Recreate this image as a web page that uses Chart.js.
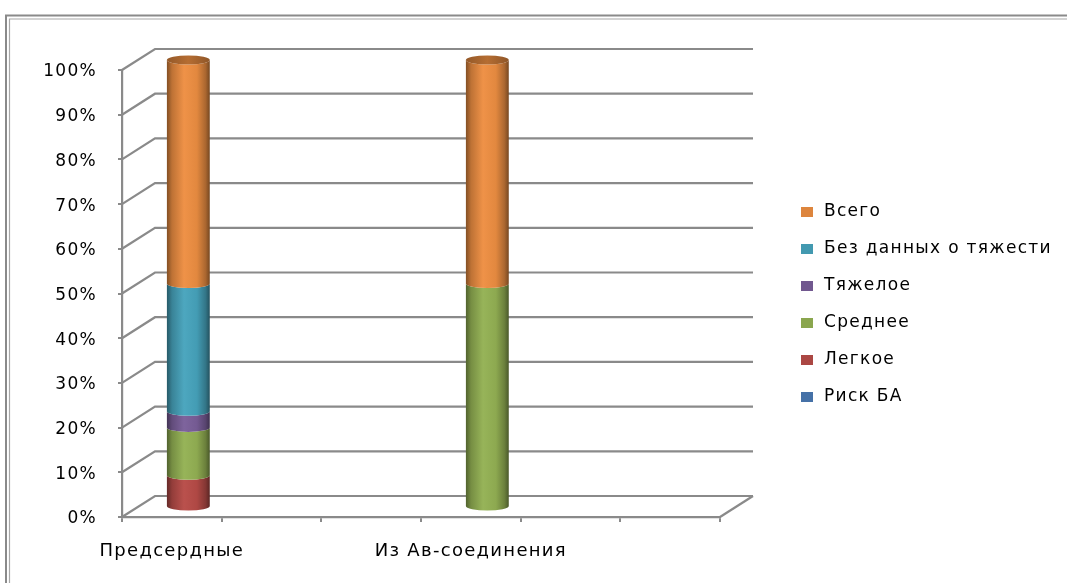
<!DOCTYPE html>
<html lang="ru">
<head>
<meta charset="utf-8">
<title>Распределение по тяжести</title>
<script src="https://cdn.jsdelivr.net/npm/chart.js@4.4.1/dist/chart.umd.min.js"></script>
<style>
  html, body { margin: 0; padding: 0; background: #ffffff; }
  #wrap { width: 1067px; height: 583px; position: relative; }
</style>
</head>
<body>
<div id="wrap"><canvas id="chart" width="1067" height="583"></canvas></div>
<script>
// Categories along the horizontal axis (only two carry labels)
const categories = ['Предсердные', '', '', 'Из Ав-соединения', '', ''];

// Series shares, % of each column (stacked bottom to top)
const riskBA   = [0,    null, null, 0,  null, null];
const mild     = [7.1,  null, null, 0,  null, null];
const moderate = [10.7, null, null, 50, null, null];
const severe   = [3.6,  null, null, 0,  null, null];
const noData   = [28.6, null, null, 0,  null, null];
const total    = [50,   null, null, 50, null, null];

const seriesNames  = ['Риск БА', 'Легкое', 'Среднее', 'Тяжелое', 'Без данных о тяжести', 'Всего'];
const seriesColors = ['#4A79B4', '#B84C48', '#94B254', '#7A5F9A', '#47A4BD', '#EE8F42'];
const seriesValues = [riskBA, mild, moderate, severe, noData, total];

// Value axis tick labels
const yTickLabels = ['0%', '10%', '20%', '30%', '40%', '50%', '60%', '70%', '80%', '90%', '100%'];

const FONT = "'DejaVu Sans', Verdana, sans-serif";
const GRID = '#8a8a8a';
const DEPTH_X = 33, DEPTH_Y = -21;   // back wall offset
const BAR_X = 16.5, BAR_Y = -10;     // cylinders sit half way into the depth

function shade(hex, f) {
  const n = parseInt(hex.slice(1), 16);
  let r = (n >> 16) & 255, g = (n >> 8) & 255, b = n & 255;
  if (f <= 1) { r *= f; g *= f; b *= f; }
  else { const t = f - 1; r += (255 - r) * t; g += (255 - g) * t; b += (255 - b) * t; }
  return 'rgb(' + Math.round(r) + ',' + Math.round(g) + ',' + Math.round(b) + ')';
}

function spacing(chart) { chart.ctx.letterSpacing = '1.3px'; }

const frame3d = {
  id: 'frame3d',
  beforeLayout: spacing,
  beforeDraw(chart) {
    const ctx = chart.ctx;
    spacing(chart);
    ctx.save();
    ctx.fillStyle = '#ffffff';
    ctx.fillRect(0, 0, chart.width, chart.height);
    // double border of the chart frame
    ctx.strokeStyle = '#8a8a8a';
    ctx.lineWidth = 2;
    ctx.beginPath();
    ctx.moveTo(6, chart.height); ctx.lineTo(6, 15.5); ctx.lineTo(chart.width, 15.5);
    ctx.stroke();
    ctx.strokeStyle = '#a8a8a8';
    ctx.lineWidth = 1.2;
    ctx.beginPath();
    ctx.moveTo(9.5, chart.height); ctx.lineTo(9.5, 19); ctx.lineTo(chart.width, 19);
    ctx.stroke();
    ctx.restore();
  },
  beforeDatasetsDraw(chart) {
    const ctx = chart.ctx;
    const { left, right, bottom } = chart.chartArea;
    const y = chart.scales.y;
    ctx.save();
    ctx.strokeStyle = GRID;
    ctx.lineWidth = 2.2;
    ctx.lineJoin = 'miter';
    // side wall diagonals and back wall gridlines
    y.ticks.forEach(t => {
      const yf = y.getPixelForValue(t.value);
      ctx.beginPath();
      ctx.moveTo(left, yf);
      ctx.lineTo(left + DEPTH_X, yf + DEPTH_Y);
      ctx.lineTo(right + DEPTH_X, yf + DEPTH_Y);
      ctx.stroke();
    });
    // floor edge on the right
    ctx.beginPath();
    ctx.moveTo(right, bottom);
    ctx.lineTo(right + DEPTH_X, bottom + DEPTH_Y);
    ctx.stroke();

    // cylinders
    const n = chart.data.labels.length;
    for (let i = 0; i < n; i++) {
      let topSeg = null;
      chart.data.datasets.forEach((ds, di) => {
        const meta = chart.getDatasetMeta(di);
        const el = meta.data[i];
        const v = ds.data[i];
        if (!el || v == null || v <= 0) return;
        const w = el.width;
        const cx = el.x + BAR_X;
        const xl = cx - w / 2, xr = cx + w / 2;
        const yt = el.y + BAR_Y, yb = el.base + BAR_Y;
        const rx = w / 2, ry = 4.5;
        const c = ds.backgroundColor;
        const g = ctx.createLinearGradient(xl, 0, xr, 0);
        g.addColorStop(0, shade(c, 0.55));
        g.addColorStop(0.12, shade(c, 0.8));
        g.addColorStop(0.4, shade(c, 1.03));
        g.addColorStop(0.7, shade(c, 0.95));
        g.addColorStop(0.9, shade(c, 0.72));
        g.addColorStop(1, shade(c, 0.5));
        ctx.beginPath();
        ctx.moveTo(xl, yt);
        ctx.lineTo(xl, yb);
        ctx.ellipse(cx, yb, rx, ry, 0, Math.PI, 0, true);
        ctx.lineTo(xr, yt);
        ctx.ellipse(cx, yt, rx, ry, 0, 0, Math.PI, false);
        ctx.closePath();
        ctx.fillStyle = g;
        ctx.fill();
        topSeg = { cx, yt, rx, ry, c };
      });
      if (topSeg) {
        const s = topSeg;
        const g = ctx.createLinearGradient(s.cx - s.rx, 0, s.cx + s.rx, 0);
        g.addColorStop(0, shade(s.c, 0.62));
        g.addColorStop(0.5, shade(s.c, 0.76));
        g.addColorStop(1, shade(s.c, 0.6));
        ctx.beginPath();
        ctx.ellipse(s.cx, s.yt, s.rx, s.ry, 0, 0, Math.PI * 2);
        ctx.fillStyle = g;
        ctx.fill();
      }
    }
    ctx.restore();
    return false;
  },
  afterDraw(chart) {
    // legend, last series on top
    const ctx = chart.ctx;
    ctx.save();
    ctx.font = '17px ' + FONT;
    ctx.textBaseline = 'middle';
    ctx.textAlign = 'left';
    const items = chart.data.datasets.slice().reverse();
    items.forEach((ds, k) => {
      const yc = 212 + k * 37;
      ctx.fillStyle = shade(ds.backgroundColor, 0.93);
      ctx.fillRect(801, yc - 5, 12, 10);
      ctx.fillStyle = '#000000';
      ctx.fillText(ds.label, 824, yc);
    });
    ctx.restore();
  }
};

const datasets = seriesNames.map((name, k) => ({
  label: name,
  data: seriesValues[k],
  backgroundColor: seriesColors[k],
  barPercentage: 0.43,
  categoryPercentage: 1.0
}));

new Chart(document.getElementById('chart'), {
  type: 'bar',
  data: { labels: categories, datasets },
  plugins: [frame3d],
  options: {
    responsive: false,
    animation: false,
    events: [],
    layout: { padding: { left: 0, right: 347, top: 70, bottom: 0 } },
    plugins: { legend: { display: false }, tooltip: { enabled: false } },
    scales: {
      x: {
        stacked: true,
        afterFit: s => { s.height = 66; },
        grid: { display: true, drawOnChartArea: false, drawTicks: true, tickLength: 5,
                offset: true, color: GRID, lineWidth: 2 },
        border: { display: true, color: GRID, width: 2.2 },
        ticks: { autoSkip: false, maxRotation: 0, padding: 19, color: '#000000',
                 font: { family: FONT, size: 18 } }
      },
      y: {
        stacked: true,
        min: 0, max: 100,
        afterFit: s => { s.width = 122; },
        grid: { display: true, drawOnChartArea: false, drawTicks: true, tickLength: 4,
                color: GRID, lineWidth: 2 },
        border: { display: true, color: GRID, width: 2.2 },
        ticks: { stepSize: 10, padding: 21, labelOffset: 2, color: '#000000',
                 font: { family: FONT, size: 17 },
                 callback: (v) => yTickLabels[Math.round(v / 10)] }
      }
    }
  }
});
</script>
</body>
</html>
